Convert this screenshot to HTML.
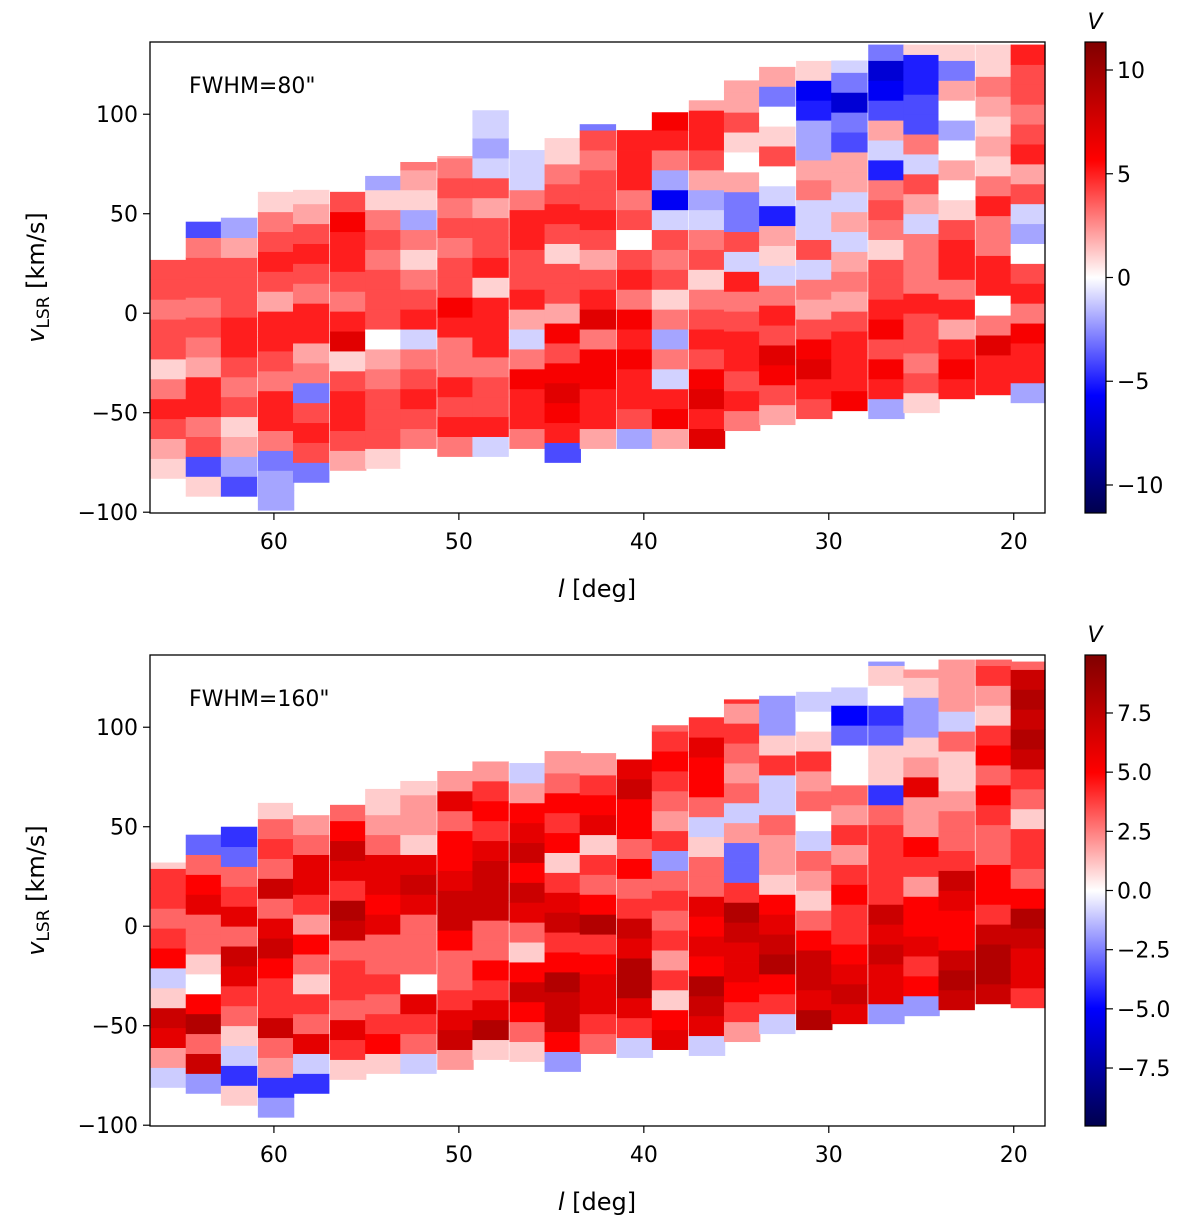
<!DOCTYPE html>
<html><head><meta charset="utf-8">
<style>
body{margin:0;background:#fff;}
svg{display:block;font-family:"DejaVu Sans","Liberation Sans",sans-serif;}
</style></head>
<body>
<svg id="fig" width="1200" height="1226" viewBox="0 0 1200 1226" xmlns="http://www.w3.org/2000/svg">
<defs>
<linearGradient id="seis" x1="0" y1="1" x2="0" y2="0">
<stop offset="0" stop-color="rgb(0,0,77)"/>
<stop offset="0.25" stop-color="rgb(0,0,255)"/>
<stop offset="0.5" stop-color="rgb(255,255,255)"/>
<stop offset="0.75" stop-color="rgb(255,0,0)"/>
<stop offset="1" stop-color="rgb(128,0,0)"/>
</linearGradient>
</defs>
</svg>
<script>
const lCenters=[65.7,63.8,61.9,59.9,58.0,56.0,54.1,52.2,50.2,48.3,46.3,44.4,42.5,40.5,38.6,36.6,34.7,32.8,30.8,28.9,26.9,25.0,23.1,21.1,19.2];
const colWidthDeg=1.935;
const binKms=10;
const lo80=[-83,-92,-92,-99,-85,-79,-78,-78,-72,-72,-68,-75,-68,-68,-68,-68,-59,-56,-53,-49,-53,-50,-43,-41,-45];
const hi80=[37,46,50,63,62,63,69,76,79,102,82,88,95,94,101,107,117,125,130,127,135,135,135,135,135];
const vals80=[
[1,2,4,5,3,1,4,4,3,4,4,0],
[1,-4,4,3,5,5,2,3,4,3,4,4,3,-4],
[-4,-2,2,1,4,3,4,5,5,4,4,4,2,-2],
[-2,-2,-3,3,5,5,3,4,5,5,2,4,5,4,3,1],
[-3,4,5,4,-3,3,2,5,5,3,4,5,4,2,1],
[2,4,5,5,4,1,7,5,3,4,5,5,6,4],
[1,4,4,4,3,2,0,4,4,4,3,4,3,1,-2],
[0,3,4,5,4,3,-1,5,4,3,1,3,-2,1,2,3],
[3,5,4,5,3,3,5,6,4,4,3,4,3,4,3,2],
[-1,5,4,4,3,5,5,5,1,5,4,4,2,4,-1,-2,-1,-1],
[3,5,5,6,3,-1,2,5,4,4,5,5,3,-1,-1],
[-4,5,6,7,6,4,6,2,4,4,1,4,5,4,3,1,1],
[2,5,5,6,6,3,7,5,4,2,4,5,4,4,3,4,-3],
[-2,4,5,5,6,5,6,3,5,4,0,4,3,5,5,5],
[2,6,5,-1,3,-2,3,1,4,3,4,-1,-6,-2,3,5,6],
[7,5,7,6,4,5,4,3,1,4,3,-1,-2,2,4,5,5,2],
[3,5,4,5,5,4,3,5,-1,4,-3,-3,2,0,1,4,2,2],
[2,4,6,7,4,5,3,-1,1,2,-5,-1,0,4,1,0,-3,2,0],
[4,5,7,6,4,2,3,-1,4,-1,-1,3,2,-2,-2,-5,-6,1,0],
[6,5,5,5,4,2,3,2,-1,2,-1,2,2,-4,-3,-7,-3,-1],
[-2,5,6,4,6,5,4,4,1,3,4,3,-5,-1,2,-4,-6,-7,-3],
[1,4,3,4,4,5,3,3,3,-1,2,4,-1,3,-4,-4,-5,-5,1],
[5,6,5,2,5,3,5,5,4,1,0,2,0,-2,0,2,-3,1],
[5,5,7,3,0,5,5,3,3,5,3,1,2,1,2,3,1,1],
[-2,5,5,6,3,5,4,0,-2,-1,4,2,5,4,3,4,4,5]];
const lo160=[-81,-84,-90,-96,-84,-77,-74,-74,-72,-67,-68,-73,-64,-66,-62,-65,-58,-54,-52,-49,-49,-45,-42,-39,-41];
const hi160=[32,46,50,62,62,61,69,73,78,90,82,88,87,94,101,105,114,120,124,120,133,129,134,134,133];
const vals160=[
[-1,2,6,7,1,-1,5,4,3,4,4,1],
[-2,7,3,8,5,0,1,3,3,6,5,3,-3],
[1,-4,-1,1,3,4,6,7,3,6,4,3,-3,-4],
[-2,-4,2,3,7,4,4,5,7,6,3,7,3,4,3,1],
[-4,-1,6,3,4,1,3,5,2,4,6,6,3,2,0],
[1,4,6,3,4,4,3,7,8,4,6,7,5,3],
[1,5,4,3,4,3,3,6,5,6,6,3,2,1,1],
[-1,3,4,6,0,3,3,3,6,7,6,1,2,2,1],
[2,7,6,4,3,3,5,7,7,6,5,5,3,6,2],
[1,8,6,4,5,3,3,7,7,7,6,4,5,4,2,0],
[1,3,5,7,5,1,3,6,7,5,7,6,5,2,-1],
[-2,5,7,7,8,5,4,7,6,4,1,5,4,5,3,2,2],
[3,4,6,6,5,4,8,5,3,4,1,6,5,4,2,2],
[-1,4,6,8,8,6,7,4,3,5,3,5,5,7,6,0],
[6,5,1,4,2,4,3,4,3,-2,4,2,3,4,5,4,3],
[-1,6,7,8,5,6,5,6,3,3,1,-1,3,5,5,6,4],
[2,4,5,6,6,7,8,4,-3,-3,2,-1,3,2,3,4,2,4],
[-1,4,5,8,7,6,5,1,2,2,3,-1,-1,4,1,-2,-2,0],
[8,6,7,7,5,3,1,2,3,-1,0,3,2,4,1,0,-1,0],
[6,7,6,5,4,4,5,4,2,4,2,3,0,0,-3,-5,-1],
[-2,6,6,7,6,7,4,4,4,4,3,-4,1,1,-3,-4,0,1,-2],
[-2,5,4,6,5,5,2,4,5,2,2,6,2,1,-2,-2,1,2],
[7,8,7,5,5,6,7,4,3,3,2,1,1,3,-1,2,2,2],
[7,8,8,7,4,5,5,3,3,4,5,3,5,4,1,2,4,3],
[4,6,6,7,8,5,3,4,4,1,3,4,7,8,7,8,7,3]];
const yTicks=[-100,-50,0,50,100];
const xTicks=[60,50,40,30,20];
const cbTicks80=[-10,-5,0,5,10];
const cbTicks160=[-7.5,-5.0,-2.5,0.0,2.5,5.0,7.5];
const vmax80=11.35, vmax160=9.95;

const NS='http://www.w3.org/2000/svg';
const svg=document.getElementById('fig');
function mk(tag,attrs,parent){const e=document.createElementNS(NS,tag);for(const k in attrs)e.setAttribute(k,attrs[k]);(parent||svg).appendChild(e);return e;}
function seismic(v,vmax){
  let t=Math.max(0,Math.min(1,(v/vmax+1)/2));
  const st=[[0,0,0,77],[0.25,0,0,255],[0.5,255,255,255],[0.75,255,0,0],[1,128,0,0]];
  for(let i=0;i<4;i++){const a=st[i],b=st[i+1];if(t<=b[0]){const f=(t-a[0])/(b[0]-a[0]);return 'rgb('+[1,2,3].map(j=>Math.round(a[j]+(b[j]-a[j])*f)).join(',')+')';}}
  return 'rgb(128,0,0)';
}
const X0=150,X1=1045,L0=66.7,L1=18.31;
function xs(l){return X0+(L0-l)/(L0-L1)*(X1-X0);}
function panel(top,lo,hi,vals,vmax,cbTicks,fmt,title,id){
  const bot=top+471, V0=-100.4, V1=136.3;
  const ys=v=>bot-(v-V0)/(V1-V0)*(bot-top);
  const g=mk('g',{});
  
  
  for(let c=0;c<lCenters.length;c++){
    const xa=Math.max(X0,xs(lCenters[c]+colWidthDeg/2)), xb=Math.min(X1,xs(lCenters[c]-colWidthDeg/2));
    for(let k=0;k<vals[c].length;k++){
      const v0=lo[c]+k*binKms; if(v0>=hi[c])break;
      const v1=Math.min(hi[c],v0+binKms);
      const r=mk('rect',{x:xa.toFixed(2),y:ys(v1).toFixed(2),width:(xb-xa+0.6).toFixed(2),height:(ys(v0)-ys(v1)+0.4).toFixed(2),fill:seismic(vals[c][k],vmax)},g);
      
      
    }
  }
  const fr=mk('rect',{x:X0,y:top,width:X1-X0,height:bot-top,fill:'none',stroke:'#000','stroke-width':1.3});
  
  
  for(const t of yTicks){const y=ys(t);mk('line',{x1:X0-7,x2:X0,y1:y,y2:y,stroke:'#000','stroke-width':1.2});
    const tx=mk('text',{x:X0-12,y:y+8,'text-anchor':'end','font-size':22,fill:'#000'});tx.textContent=String(t).replace('-','\u2212');
    }
  for(const t of xTicks){const x=xs(t);mk('line',{x1:x,x2:x,y1:bot,y2:bot+7,stroke:'#000','stroke-width':1.2});
    const tx=mk('text',{x:x,y:bot+36,'text-anchor':'middle','font-size':22,fill:'#000'});tx.textContent=t;
    }
  const tt=mk('text',{x:189,y:top+51,'font-size':22,fill:'#000'});tt.textContent=title;
  
  const xl=mk('text',{x:597,y:bot+84,'text-anchor':'middle','font-size':24,fill:'#000'});
  xl.innerHTML='<tspan font-style="italic">l</tspan> [deg]';
  
  const cy=(top+bot)/2;
  const yl=mk('text',{x:0,y:0,'text-anchor':'middle','font-size':24,fill:'#000',transform:'translate(44,'+cy+') rotate(-90)'});
  yl.innerHTML='<tspan font-style="italic">v</tspan><tspan font-size="17" dy="5">LSR</tspan><tspan dy="-5"> [km/s]</tspan>';
  
  const cb=mk('rect',{x:1085,y:top,width:21,height:bot-top,fill:'url(#seis)',stroke:'#000','stroke-width':1.2});
  
  for(const t of cbTicks){const y=cy-t/vmax*(bot-top)/2;mk('line',{x1:1106,x2:1113,y1:y,y2:y,stroke:'#000','stroke-width':1.2});
    const tx=mk('text',{x:1117,y:y+8,'font-size':22,fill:'#000'});tx.textContent=fmt(t).replace('-','\u2212');
    }
  const vl=mk('text',{x:1095,y:top-13,'text-anchor':'middle','font-size':22,'font-style':'italic',fill:'#000'});vl.textContent='V';
  
}
panel(42,lo80,hi80,vals80,vmax80,cbTicks80,t=>String(t),'FWHM=80"','top-panel');
panel(655,lo160,hi160,vals160,vmax160,cbTicks160,t=>t.toFixed(1),'FWHM=160"','bottom-panel');
</script>
</body></html>
